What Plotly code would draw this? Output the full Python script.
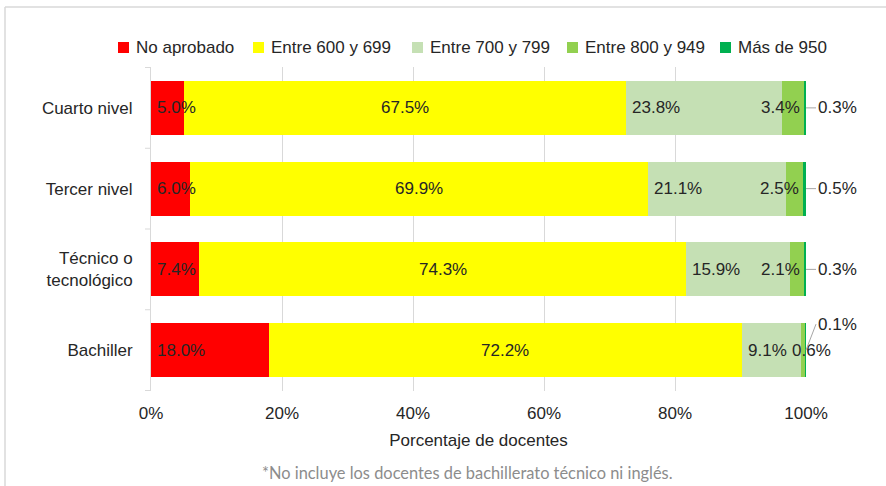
import plotly.graph_objects as go

# Teacher education levels (top to bottom) and score bands
niveles = ["Cuarto nivel", "Tercer nivel", "Técnico o<br>tecnológico", "Bachiller"]
rangos = ["No aprobado", "Entre 600 y 699", "Entre 700 y 799", "Entre 800 y 949", "Más de 950"]

no_aprobado = [5.0, 6.0, 7.4, 18.0]
entre_600_699 = [67.5, 69.9, 74.3, 72.2]
entre_700_799 = [23.8, 21.1, 15.9, 9.1]
entre_800_949 = [3.4, 2.5, 2.1, 0.6]
mas_de_950 = [0.3, 0.5, 0.3, 0.1]

x_ticks = [0, 20, 40, 60, 80, 100]
x_ticktext = ["0%", "20%", "40%", "60%", "80%", "100%"]

series = [no_aprobado, entre_600_699, entre_700_799, entre_800_949, mas_de_950]
colores = ["#FF0000", "#FFFF00", "#C5E0B4", "#92D050", "#00B050"]

# where each in-bar label sits inside its segment: start, middle or end
ancla = ["left", "center", "left", "right", None]
ancla_800_949 = ["right", "right", "right", "center"]

# legend row: left edge (px) of each colour key
legend_px = [118, 253, 412, 567, 720]

FONT = "Liberation Sans, Arial, sans-serif"
TXT = "#262626"

L, T, W, H = 151, 67, 655, 324   # plot area in pixels


def px_x(px):
    return (px - L) / W


def px_y(py):
    return (T + H - py) / H


fig = go.Figure()
for nombre, vals, col in zip(rangos, series, colores):
    fig.add_trace(go.Bar(
        y=niveles, x=vals, name=nombre, orientation="h",
        marker=dict(color=col, line=dict(width=0)),
        hoverinfo="x+name", showlegend=False,
    ))

annotations = []
shapes = []

for i, nivel in enumerate(niveles):
    base = 0.0
    for s, vals in enumerate(series):
        v = vals[i]
        txt = f"{v:.1f}%"
        if s < 4:
            a = ancla[s] if s != 3 else ancla_800_949[i]
            if a == "left":
                xpos, shift = base, 4
            elif a == "right":
                xpos, shift = base + v, -2
            else:
                xpos, shift = base + v / 2, 0
            if s == 3 and a == "center":
                xpos, shift = base + v, 6
            annotations.append(dict(
                x=xpos, y=nivel, xref="x", yref="y", text=txt,
                showarrow=False, xanchor=a, xshift=shift,
                font=dict(family=FONT, size=17, color=TXT),
            ))
        else:
            # outside label with a short leader line
            alto = i == len(niveles) - 1
            annotations.append(dict(
                x=base + v, y=nivel, xref="x", yref="y", text=txt,
                showarrow=True, arrowhead=0, arrowwidth=1, arrowcolor="#a6a6a6",
                ax=10, ay=-26 if alto else 0, xanchor="left", yanchor="middle",
                standoff=0, startstandoff=0,
                font=dict(family=FONT, size=17, color=TXT),
            ))
        base += v

# colour keys above the plot
for nombre, col, lx in zip(rangos, colores, legend_px):
    shapes.append(dict(type="rect", xref="paper", yref="paper",
                       x0=px_x(lx), x1=px_x(lx + 11), y0=px_y(42), y1=px_y(53),
                       fillcolor=col, line=dict(width=0)))
    annotations.append(dict(
        x=px_x(lx + 16), y=px_y(47.5), xref="paper", yref="paper",
        text=nombre, showarrow=False, xanchor="left", yanchor="middle",
        font=dict(family=FONT, size=17, color=TXT),
    ))

# footnote under the axis title
annotations.append(dict(
    x=px_x(467), y=px_y(472), xref="paper", yref="paper",
    text="*No incluye los docentes de bachillerato técnico ni inglés.",
    showarrow=False, xanchor="center", yanchor="middle",
    font=dict(family="Lato, Open Sans, sans-serif", size=16.4, color="#8c8c8c"),
))

# small ticks at the category boundaries of the vertical axis
for k in range(len(niveles) + 1):
    shapes.append(dict(type="line", xref="paper", yref="y",
                       x0=-6 / W, x1=0, y0=k - 0.5, y1=k - 0.5,
                       line=dict(color="#d9d9d9", width=1)))
# frame lines at the top and left of the canvas
shapes.append(dict(type="line", xref="paper", yref="paper",
                   x0=px_x(5), x1=px_x(890), y0=px_y(7), y1=px_y(7),
                   line=dict(color="#d9d9d9", width=1.5)))
shapes.append(dict(type="line", xref="paper", yref="paper",
                   x0=px_x(5), x1=px_x(5), y0=px_y(7), y1=px_y(490),
                   line=dict(color="#d9d9d9", width=1.5)))

fig.update_layout(
    width=886, height=486,
    margin=dict(l=L, r=886 - L - W, t=T, b=486 - T - H),
    barmode="stack", bargap=0.333,
    plot_bgcolor="white", paper_bgcolor="white",
    font=dict(family=FONT, size=17, color=TXT),
    showlegend=False,
    xaxis=dict(range=[0, 100], tickvals=x_ticks, ticktext=x_ticktext,
               showgrid=True, gridcolor="#d9d9d9", gridwidth=1,
               zeroline=False, showline=False, ticks="",
               ticklabelstandoff=10,
               title=dict(text="Porcentaje de docentes", standoff=12,
                          font=dict(family=FONT, size=17, color=TXT)),
               tickfont=dict(family=FONT, size=17, color=TXT),
               fixedrange=True),
    yaxis=dict(autorange="reversed", showgrid=False, zeroline=False,
               showline=True, linecolor="#d9d9d9", linewidth=1, ticks="",
               ticklabelstandoff=14,
               tickfont=dict(family=FONT, size=17, color=TXT),
               fixedrange=True),
    annotations=annotations, shapes=shapes,
)

fig.write_html("out.html")
